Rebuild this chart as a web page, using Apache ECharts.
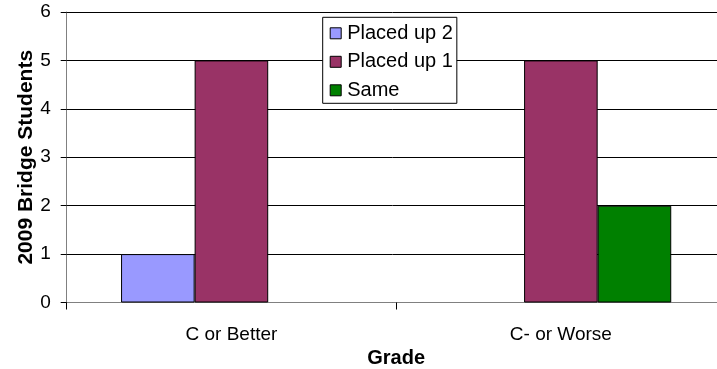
<!DOCTYPE html>
<html>
<head>
<meta charset="utf-8">
<script src="https://cdn.jsdelivr.net/npm/echarts@6/dist/echarts.min.js"></script>
<style>html,body{margin:0;padding:0;background:#fff}#c{width:717px;height:369px}</style>
</head>
<body>
<div id="c"></div>
<script>
const categories = ['C or Better', 'C- or Worse'];
const placedUp2 = [1, 0];
const placedUp1 = [5, 5];
const same = [0, 2];
const seriesNames = ['Placed up 2', 'Placed up 1', 'Same'];
const seriesColors = ['#9999FF', '#993366', '#008000'];

const font = '"Liberation Sans", Arial, sans-serif';
const chart = echarts.init(document.getElementById('c'));
const values = [placedUp2, placedUp1, same];
chart.setOption({
  animation: false,
  textStyle: { fontFamily: font },
  grid: { left: 66.7, top: 12, right: -8.6, bottom: 66.5, outerBoundsMode: 'none', containLabel: false },
  legend: {
    orient: 'vertical', left: 322.7, top: 17.3,
    padding: [6, 4, 3, 7],
    backgroundColor: '#fff', borderColor: '#000', borderWidth: 1,
    itemWidth: 11, itemHeight: 11, itemGap: 8.5,
    icon: 'rect',
    itemStyle: { borderColor: '#000', borderWidth: 1 },
    textStyle: { fontSize: 20, color: '#000', fontFamily: font, lineHeight: 20, padding: [0, 0, 0, 1] },
    data: seriesNames
  },
  xAxis: {
    type: 'category', data: categories,
    name: 'Grade', nameLocation: 'middle', nameGap: 46, nameMoveOverlap: false,
    nameTextStyle: { fontSize: 20, fontWeight: 'bold', color: '#000', fontFamily: font },
    axisLine: { lineStyle: { color: '#808080', width: 1 } },
    axisTick: { show: true, length: 7, lineStyle: { color: '#000' } },
    axisLabel: { fontSize: 19, color: '#000', margin: 23, fontFamily: font }
  },
  yAxis: {
    type: 'value', min: 0, max: 6, interval: 1,
    name: '2009 Bridge Students', nameLocation: 'middle', nameGap: 30, nameMoveOverlap: false,
    nameTextStyle: { fontSize: 21, fontWeight: 'bold', color: '#000', fontFamily: font },
    axisLine: { show: true, lineStyle: { color: '#808080', width: 1 } },
    axisTick: { show: true, length: 6, lineStyle: { color: '#000' } },
    axisLabel: { fontSize: 19, color: '#000', margin: 16, fontFamily: font },
    splitLine: { show: true, lineStyle: { color: '#000', width: 1 } }
  },
  series: seriesNames.map((n, i) => ({
    name: n, type: 'bar',
    data: values[i].map(v => (v === 0 ? '-' : v)),
    barGap: '0%', barCategoryGap: '33%',
    itemStyle: { color: seriesColors[i], borderColor: '#000', borderWidth: 1 }
  }))
});
</script>
</body>
</html>
